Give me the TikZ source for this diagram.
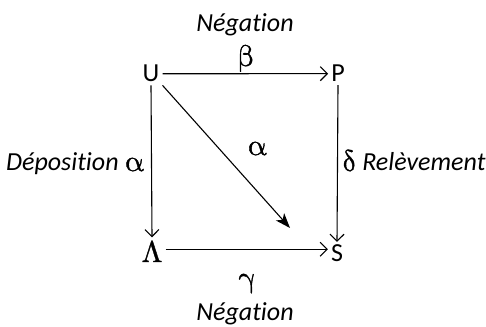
\documentclass[tikz,border=0pt]{standalone}
\usepackage{fontspec}
\setmainfont[Ligatures=NoCommon]{Carlito}
\newfontfamily\grk[FakeBold=1.2]{Latin Modern Math}
\usetikzlibrary{arrows.meta}
\begin{document}
\begin{tikzpicture}[x=1pt,y=1pt,
  txt/.style={font=\fontsize{26}{30}\selectfont\itshape, inner sep=0pt, anchor=base},
  gk/.style={font=\fontsize{30}{34}\selectfont\grk, inner sep=0pt, anchor=base},
  obj/.style={font=\fontsize{26}{30}\selectfont, inner sep=3pt, anchor=base},
  arr/.style={line width=1.1pt, -{Straight Barb[length=7pt,width=14pt,line width=1.1pt]}},
  diag/.style={line width=1.1pt, -{Stealth[length=15pt,width=11pt,inset=4pt]}}]
\useasboundingbox (0,0) rectangle (486,326);
% objects
\node[obj] (U) at (151,244) {U};
\node[obj] (P) at (338,244) {P};
\node[obj, font=\fontsize{30}{34}\selectfont\grk] (L) at (152,64) {Λ};
\node[obj] (S) at (337,64) {S};
\coordinate (D) at (290,98);
% arrows
\draw[arr] (U) -- (P);
\draw[arr] (U.south) -- (L.north);
\draw[arr] (P.south) -- (S.north);
\draw[arr] ([yshift=2pt]L.east) -- ([yshift=2pt]L.east -| S.west);
\draw[diag] (U.south east) -- (D);
% labels
\node[txt] (n1) at (245,294) {Négation};
\node[gk] (b) at (246,260) {β};
\node[gk] (a) at (257,171) {α};
\node[txt, anchor=base east] (dep) at (144,155) {Déposition {\upshape\grk\fontsize{30}{34}\selectfont α}};
\node[txt, anchor=base west] (rel) at (342,155) {{\upshape\grk\fontsize{30}{34}\selectfont δ} Relèvement};
\node[gk] (g) at (247,39) {γ};
\node[txt] (n2) at (245,6) {Négation};
\end{tikzpicture}
\end{document}
